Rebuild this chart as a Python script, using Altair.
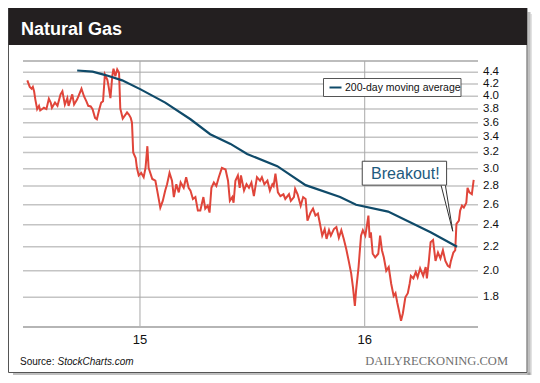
import altair as alt
import pandas as pd

# ---- data ----
price_dates = [
    "2014-07-02", "2014-07-06", "2014-07-09", "2014-07-11", "2014-07-13", "2014-07-15", "2014-07-18",
    "2014-07-21", "2014-07-23", "2014-07-29", "2014-08-02", "2014-08-06", "2014-08-09", "2014-08-11",
    "2014-08-16", "2014-08-20", "2014-08-25", "2014-08-28", "2014-09-01", "2014-09-05", "2014-09-07",
    "2014-09-13", "2014-09-16", "2014-09-21", "2014-09-28", "2014-10-02", "2014-10-06", "2014-10-09",
    "2014-10-13", "2014-10-16", "2014-10-20", "2014-10-23", "2014-10-27", "2014-10-30", "2014-11-02",
    "2014-11-05", "2014-11-09", "2014-11-11", "2014-11-14", "2014-11-17", "2014-11-19", "2014-11-22",
    "2014-11-25", "2014-11-28", "2014-11-30", "2014-12-04", "2014-12-11", "2014-12-14", "2014-12-17",
    "2014-12-19", "2014-12-21", "2014-12-25", "2014-12-27", "2014-12-30", "2015-01-03", "2015-01-07",
    "2015-01-10", "2015-01-13", "2015-01-15", "2015-01-21", "2015-01-26", "2015-01-29", "2015-02-03",
    "2015-02-07", "2015-02-11", "2015-02-14", "2015-02-18", "2015-02-22", "2015-02-25", "2015-03-01",
    "2015-03-05", "2015-03-08", "2015-03-13", "2015-03-17", "2015-03-21", "2015-03-24", "2015-03-28",
    "2015-04-01", "2015-04-05", "2015-04-09", "2015-04-14", "2015-04-17", "2015-04-21", "2015-04-24",
    "2015-04-27", "2015-05-01", "2015-05-05", "2015-05-09", "2015-05-14", "2015-05-20", "2015-05-24",
    "2015-05-27", "2015-05-31", "2015-06-02", "2015-06-05", "2015-06-09", "2015-06-12", "2015-06-14",
    "2015-06-19", "2015-06-23", "2015-06-27", "2015-07-01", "2015-07-05", "2015-07-10", "2015-07-15",
    "2015-07-18", "2015-07-22", "2015-07-27", "2015-07-31", "2015-08-04", "2015-08-06", "2015-08-09",
    "2015-08-13", "2015-08-17", "2015-08-22", "2015-08-25", "2015-08-31", "2015-09-03", "2015-09-08",
    "2015-09-10", "2015-09-14", "2015-09-19", "2015-09-23", "2015-09-27", "2015-09-30", "2015-10-05",
    "2015-10-09", "2015-10-13", "2015-10-17", "2015-10-20", "2015-10-24", "2015-10-28", "2015-10-31",
    "2015-11-04", "2015-11-07", "2015-11-12", "2015-11-16", "2015-11-20", "2015-11-24", "2015-11-28",
    "2015-12-02", "2015-12-06", "2015-12-10", "2015-12-13", "2015-12-16", "2015-12-18", "2015-12-22",
    "2015-12-26", "2015-12-29", "2016-01-02", "2016-01-05", "2016-01-07", "2016-01-09", "2016-01-11",
    "2016-01-14", "2016-01-18", "2016-01-23", "2016-01-26", "2016-01-29", "2016-02-01", "2016-02-05",
    "2016-02-09", "2016-02-13", "2016-02-17", "2016-02-20", "2016-02-23", "2016-02-25", "2016-02-29",
    "2016-03-03", "2016-03-07", "2016-03-11", "2016-03-14", "2016-03-16", "2016-03-20", "2016-03-24",
    "2016-03-27", "2016-03-31", "2016-04-05", "2016-04-09", "2016-04-11", "2016-04-14", "2016-04-17",
    "2016-04-21", "2016-04-25", "2016-04-29", "2016-05-03", "2016-05-07", "2016-05-11", "2016-05-15",
    "2016-05-18", "2016-05-20", "2016-05-24", "2016-05-27", "2016-05-29", "2016-06-02", "2016-06-04",
    "2016-06-07", "2016-06-10", "2016-06-14", "2016-06-16", "2016-06-19", "2016-06-23", "2016-06-26",
]
price_values = [
    4.26, 4.15, 4.12, 4.15, 4.08, 3.95, 3.80,
    3.85, 3.78, 3.82, 3.80, 3.96, 3.90, 3.82,
    3.90, 3.85, 4.03, 4.08, 3.87, 3.97, 3.85,
    4.03, 3.87, 3.95, 4.12, 4.00, 3.92, 3.85,
    3.84, 3.80, 3.67, 3.65, 3.80, 3.90, 3.92,
    4.36, 4.27, 4.16, 3.97, 4.33, 4.46, 4.33,
    4.45, 4.39, 3.81, 3.66, 3.75, 3.72, 3.67,
    3.60, 3.20, 3.13, 3.01, 2.92, 2.95, 2.90,
    3.01, 3.28, 3.01, 2.88, 2.86, 2.75, 2.57,
    2.64, 2.75, 2.82, 2.95, 2.86, 2.68, 2.82,
    2.73, 2.84, 2.78, 2.90, 2.78, 2.75, 2.66,
    2.68, 2.54, 2.54, 2.68, 2.56, 2.59, 2.52,
    2.78, 2.84, 2.80, 2.90, 3.01, 2.99, 2.86,
    2.64, 2.68, 2.62, 2.86, 2.92, 2.78, 2.92,
    2.75, 2.82, 2.78, 2.84, 2.69, 2.90, 2.86,
    2.90, 2.82, 2.86, 2.75, 2.82, 2.80, 2.94,
    2.73, 2.69, 2.71, 2.66, 2.71, 2.64, 2.68,
    2.77, 2.71, 2.59, 2.68, 2.66, 2.44, 2.52,
    2.56, 2.49, 2.51, 2.42, 2.30, 2.36, 2.27,
    2.35, 2.30, 2.36, 2.38, 2.28, 2.35, 2.27,
    2.18, 2.08, 1.98, 1.87, 1.74, 1.85, 2.03,
    2.30, 2.35, 2.30, 2.41, 2.49, 2.28, 2.33,
    2.14, 2.11, 2.14, 2.30, 2.17, 2.11, 2.00,
    2.03, 1.90, 1.81, 1.83, 1.76, 1.72, 1.64,
    1.69, 1.80, 1.83, 1.90, 1.96, 1.94, 1.99,
    1.95, 2.02, 1.96, 2.03, 1.94, 2.07, 2.24,
    2.26, 2.08, 2.15, 2.10, 2.17, 2.08, 2.04,
    2.03, 2.08, 2.15, 2.17, 2.41, 2.44, 2.54,
    2.59, 2.57, 2.62, 2.78, 2.73, 2.71, 2.87,
]

ma_dates = [
    "2014-09-21", "2014-10-16", "2014-11-06", "2014-12-03", "2015-01-02", "2015-02-11",
    "2015-03-24", "2015-04-25", "2015-05-28", "2015-06-24", "2015-08-12", "2015-09-27",
    "2015-11-22", "2015-12-18", "2016-02-08", "2016-04-17", "2016-05-30",
]
ma_values = [
    4.43, 4.41, 4.35, 4.26, 4.11, 3.90,
    3.65, 3.44, 3.31, 3.18, 3.03, 2.81,
    2.68, 2.60, 2.53, 2.33, 2.20,
]

y_ticks = [1.8, 2.0, 2.2, 2.4, 2.6, 2.8, 3.0, 3.2, 3.4, 3.6, 3.8, 4.0, 4.2, 4.4]
y_top = 4.6
y_bottom = 1.6
x_start = "2014-06-25"
x_end = "2016-07-03"
x_tick_dates = ["2015-01-01", "2016-01-01"]
x_tick_labels = ["15", "16"]

title_text = "Natural Gas"
legend_text = "200-day moving average"
callout_text = "Breakout!"
source_label = "Source: "
source_name = "StockCharts.com"
brand_text = "DAILYRECKONING.COM"

# callout box / pointer in data coordinates
callout_box = {"date": ["2015-12-28"], "date2": ["2016-05-13"], "value": [2.81], "value2": [3.09]}
callout_label = {"date": ["2016-03-07"], "value": [2.94], "label": [callout_text]}
callout_tail = {"date": ["2016-05-04", "2016-05-23", "2016-05-11"], "value": [2.81, 2.34, 2.81]}

# ---- build ----
W, H = 455, 266
FONT = "Liberation Sans"
RED = "#e0453a"
BLUE = "#0f4a69"
GRID = "#c4c4c4"

price = pd.DataFrame({"date": price_dates, "value": price_values})
ma = pd.DataFrame({"date": ma_dates, "value": ma_values})
ylab = pd.DataFrame({"value": y_ticks, "label": [f"{v:.1f}" for v in y_ticks]})
xlab = pd.DataFrame({"date": x_tick_dates, "label": x_tick_labels})

# horizontal lines as two-point paths (start/end of the date range), one per level
grid_rows = []
for v in y_ticks:
    grid_rows += [{"date": x_start, "value": v, "level": f"g{v}"}, {"date": x_end, "value": v, "level": f"g{v}"}]
grid_df = pd.DataFrame(grid_rows)
edge_df = pd.DataFrame([
    {"date": x_start, "value": y_top, "level": "top"}, {"date": x_end, "value": y_top, "level": "top"},
])
base_df = pd.DataFrame([
    {"date": x_start, "value": y_bottom, "level": "base"}, {"date": x_end, "value": y_bottom, "level": "base"},
])
vgrid_rows = []
for d in x_tick_dates:
    vgrid_rows += [{"date": d, "value": y_bottom, "level": d}, {"date": d, "value": y_top, "level": d}]
vgrid_df = pd.DataFrame(vgrid_rows)

xscale = alt.Scale(type="utc", domain=[alt.DateTime(year=2014, month=6, date=25, utc=True),
                                        alt.DateTime(year=2016, month=7, date=3, utc=True)])
yscale = alt.Scale(type="log", domain=[y_bottom, y_top], nice=False, zero=False)


def X(field="date:T"):
    return alt.X(field, scale=xscale, axis=None)


def Y(field="value:Q"):
    return alt.Y(field, scale=yscale, axis=None)


def one():
    return alt.Chart(pd.DataFrame({"k": [0]}))


# decorations (frame, banner, shadow)
shadow1 = one().mark_rect(fill="#8a8a8a", opacity=0.55).encode(
    x=alt.value(504.5), x2=alt.value(507.5), y=alt.value(-49), y2=alt.value(314.5))
shadow2 = one().mark_rect(fill="#8a8a8a", opacity=0.25).encode(
    x=alt.value(507.5), x2=alt.value(510), y=alt.value(-47), y2=alt.value(316))
shadow3 = one().mark_rect(fill="#8a8a8a", opacity=0.55).encode(
    x=alt.value(-10), x2=alt.value(507.5), y=alt.value(311.5), y2=alt.value(314.5))
shadow4 = one().mark_rect(fill="#8a8a8a", opacity=0.25).encode(
    x=alt.value(-8), x2=alt.value(510), y=alt.value(314.5), y2=alt.value(316))
frame = one().mark_rect(fill="white", fillOpacity=0, stroke="#555555", strokeWidth=1).encode(
    x=alt.value(-14.5), x2=alt.value(504), y=alt.value(-57), y2=alt.value(311.5))
banner = one().mark_rect(fill="#231f20").encode(
    x=alt.value(-14.5), x2=alt.value(504), y=alt.value(-57), y2=alt.value(-16))
title = one().mark_text(font=FONT, fontSize=18, fontWeight="bold", color="white",
                        align="left", baseline="alphabetic").encode(
    x=alt.value(-2), y=alt.value(-26.5), text=alt.value(title_text))

# grid and axis lines drawn as paths through the shared scales
hgrid = alt.Chart(grid_df).mark_line(color=GRID, strokeWidth=1.5).encode(
    x=X(), y=Y(), detail="level:N")
htop = alt.Chart(edge_df).mark_line(color="#bdbdbd", strokeWidth=2).encode(
    x=X(), y=Y(), detail="level:N")
xdomain = alt.Chart(base_df).mark_line(color="#b5b5b5", strokeWidth=2).encode(
    x=X(), y=Y(), detail="level:N")
vgrid = alt.Chart(vgrid_df).mark_line(color="#a9a9a9", strokeWidth=1).encode(
    x=X(), y=Y(), detail="level:N")

# tick labels
ylabels = alt.Chart(ylab).mark_text(font=FONT, fontSize=11.5, color="#111111", align="left",
                                     baseline="middle").encode(
    y=Y(), x=alt.value(W + 5), text="label:N")
xlabels = alt.Chart(xlab).mark_text(font=FONT, fontSize=13, color="#111111", align="center",
                                     baseline="middle").encode(
    x=X(), y=alt.value(H + 13), text="label:N")

# data lines
price_line = alt.Chart(price).mark_line(color=RED, strokeWidth=2).encode(x=X(), y=Y())
ma_line = alt.Chart(ma).mark_line(color=BLUE, strokeWidth=2.2).encode(x=X(), y=Y())

# legend (manual)
leg_box = one().mark_rect(fill="white", stroke="#555555", strokeWidth=1).encode(
    x=alt.value(300.5), x2=alt.value(438), y=alt.value(17.5), y2=alt.value(35.5))
leg_line = one().mark_rule(color=BLUE, strokeWidth=2).encode(
    x=alt.value(306.5), x2=alt.value(318.5), y=alt.value(26.5))
leg_text = one().mark_text(font=FONT, fontSize=10.5, color="#111111", align="left",
                           baseline="middle").encode(
    x=alt.value(322), y=alt.value(26.5), text=alt.value(legend_text))

# callout (tail drawn as a narrow white wedge with dark outline)
tail = alt.Chart(pd.DataFrame(callout_tail)).mark_line(
    color="#333333", strokeWidth=1, fill="white", interpolate="linear").encode(
    x=X(), y=Y(), order=alt.Order("idx:Q")).transform_window(idx="row_number()")
box = alt.Chart(pd.DataFrame(callout_box)).mark_rect(fill="white", stroke="#444444", strokeWidth=1).encode(
    x=X(), x2="date2:T", y=Y(), y2="value2:Q")
box_text = alt.Chart(pd.DataFrame(callout_label)).mark_text(
    font=FONT, fontSize=16, color="#1d5a7e", align="center", baseline="middle").encode(
    x=X(), y=Y(), text="label:N")

# footer
src1 = one().mark_text(font=FONT, fontSize=10, color="#111111", align="left",
                       baseline="alphabetic").encode(
    x=alt.value(-3), y=alt.value(303.5), text=alt.value(source_label))
src2 = one().mark_text(font=FONT, fontSize=10, fontStyle="italic", color="#111111",
                       align="left", baseline="alphabetic").encode(
    x=alt.value(34.5), y=alt.value(303.5), text=alt.value(source_name))
brand = one().mark_text(font="Liberation Serif", fontSize=12.5, color="#6f6f6f",
                        align="right", baseline="alphabetic").encode(
    x=alt.value(485), y=alt.value(303.5), text=alt.value(brand_text))

chart = alt.layer(
    shadow1, shadow2, shadow3, shadow4, frame, banner, title,
    hgrid, htop, vgrid, xdomain, ylabels, xlabels, price_line,
    ma_line, leg_box, leg_line, leg_text, tail, box, box_text, src1, src2, brand,
).properties(
    width=W, height=H,
    padding={"left": 15, "top": 53, "right": 54, "bottom": 48},
    autosize=alt.AutoSizeParams(type="none"),
    background="white",
).configure_view(stroke=None)

chart.save("out.html", embed_options={"renderer": "svg", "actions": False})
